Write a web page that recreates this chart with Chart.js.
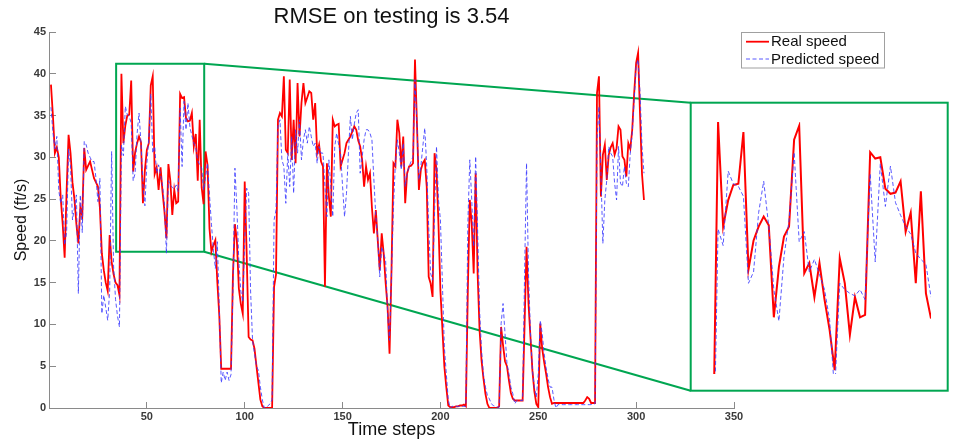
<!DOCTYPE html>
<html><head><meta charset="utf-8">
<script src="https://cdn.jsdelivr.net/npm/chart.js@4.4.0/dist/chart.umd.min.js"></script>
<style>
html,body{margin:0;padding:0;background:#fff;}
#wrap{position:relative;width:954px;height:444px;overflow:hidden;}
#main{position:absolute;left:0;top:0;}
#inset{position:absolute;left:713px;top:122px;}
</style></head><body>
<div id="wrap"><canvas id="main" width="954" height="444"></canvas><canvas id="inset" width="218" height="252"></canvas></div>
<script>
// ---- data (time steps 1..304) ----
const realSpeed = [
 38.7, 35, 30.5, 31.2, 30, 25.1, 22, 18, 26, 32.7,
 30.5, 27, 25, 22, 19.7, 24, 23, 31.1, 28.5, 29,
 29.5, 28.5, 27.5, 27, 26.5, 24, 18.5, 16.5, 15, 14,
 20.7, 17.5, 16, 15, 14.7, 13.5, 40, 31.7, 33.8, 35,
 35.1, 39.2, 28.3, 30.6, 31.7, 32.5, 31.8, 24.5, 28.5, 30.9,
 31.7, 38.6, 39.7, 28, 28.8, 26.1, 28.8, 25.9, 23.5, 20.3,
 29.2, 27.2, 23.1, 26.1, 24.5, 24.7, 37.6, 37.1, 37.2, 34.7,
 34.3, 34.4, 35.3, 31.3, 32.8, 27.2, 34.5, 26.4, 24.4, 30.7,
 29.1, 21.5, 18.7, 19.5, 20.1, 15.1, 11.1, 4.7, 4.7, 4.7,
 4.7, 4.7, 4.7, 16, 22, 20, 14.3, 12.5, 11.3, 27.1,
 18.5, 8.5, 8.2, 8.1, 7.1, 5, 3, 1, 0.2, 0,
 0, 0, 0, 0, 14.5, 16, 34.5, 35.3, 34.9, 39.7,
 30.9, 30.5, 39.3, 29.7, 34.5, 29.3, 38.9, 32.5, 36.5, 38.9,
 36.5, 37.2, 37.9, 37.7, 34.5, 36.5, 30.5, 31.5, 29.5, 28.9,
 14.5, 29.3, 25.3, 22.9, 34.5, 33.7, 33.9, 34, 28.9, 29.7,
 30.5, 31.7, 32.1, 32.5, 33.1, 33.7, 33.3, 32, 31.3, 29.7,
 26.5, 28.9, 27.3, 28.1, 24, 20.9, 23.7, 20, 16.5, 20.9,
 18.5, 15, 12.1, 6.5, 16.5, 29.3, 28.9, 34.5, 32.9, 28.9,
 32.5, 24.5, 28.1, 28.9, 29, 29.3, 41.7, 34.1, 26.1, 28.5,
 29.3, 29.7, 26.5, 15.7, 14.9, 13.3, 30.5, 28.5, 22, 14,
 9.5, 5, 2.5, 0.3, 0.1, 0.1, 0.1, 0.2, 0.2, 0.3,
 0.3, 0.4, 0.2, 14, 24.9, 22, 16.1, 28.1, 16.1, 9.3,
 5.7, 3.5, 1.7, 0.5, 0, 0, 0, 0, 0, 0.2,
 9.7, 7.5, 5.6, 5, 3.3, 1.8, 1.1, 0.9, 0.9, 0.9,
 0.9, 0.9, 10, 19.3, 12.5, 8.5, 4.5, 2, 0.5, 0.1,
 10.1, 7.1, 5.5, 4.1, 2.5, 1.3, 0.5, 0.6, 0.6, 0.6,
 0.6, 0.6, 0.6, 0.6, 0.6, 0.6, 0.6, 0.6, 0.6, 0.6,
 0.6, 0.6, 0.6, 0.9, 1.3, 1.1, 0.6, 0.6, 0.6, 37.7,
 39.7, 25.3, 30.3, 31.5, 27.3, 30.3, 31.2, 31.7, 30.3, 31.1,
 33.7, 33.3, 30.1, 29.7, 27.7, 31.7, 31, 33.3, 37.7, 41.3,
 42.5, 35, 28, 24.9
];
const predictedSpeed = [
 36, 33, 31, 32.5, 26, 24.5, 25.5, 19.5, 21, 31,
 29, 22.5, 24, 25.5, 13.7, 25.5, 21, 31.9, 31.5, 30.5,
 30, 29.5, 29.5, 27.5, 24.7, 27.5, 11.3, 13.5, 12, 10.5,
 14, 30.7, 17, 13, 11, 9.7, 31.5, 30.2, 36.1, 35.1,
 34.9, 34.1, 27.2, 28.1, 32.8, 35.3, 31.7, 26.7, 24.2, 29.3,
 32.2, 37.6, 30.5, 31.3, 28.1, 29.1, 27.9, 26.7, 24.3, 18.5,
 27.2, 26.7, 26.4, 26.2, 26.7, 25.9, 35.9, 28.9, 36.7, 33.3,
 36.5, 33.6, 32.6, 31.7, 31.1, 29.6, 29.1, 28.7, 26.1, 27.7,
 29.3, 25.5, 22, 18.9, 16.7, 19.9, 12, 3, 4.3, 3.3,
 4.3, 3.3, 4, 14.3, 28.7, 23.9, 17.5, 14, 12.7, 20,
 26.3, 25.7, 14, 8.1, 6.5, 5, 4.5, 2.5, 1, 0,
 0, 0.3, 0.5, 1, 22.5, 23.7, 33.7, 34.5, 29.7, 28.9,
 24.5, 30.5, 26.5, 32.5, 25.7, 33.3, 30.5, 34.5, 29.7, 32.1,
 33.3, 31.7, 33.7, 32.5, 31.3, 31.7, 29.3, 31.3, 30.5, 30.5,
 26.5, 22.9, 29.7, 26.5, 22.9, 31.3, 32.9, 31.5, 30.5, 26.5,
 22.9, 25.7, 30.5, 34.9, 32.1, 34, 35.3, 35.7, 28.1, 30,
 32.1, 33.3, 33.3, 32.9, 32.1, 27.3, 22.9, 20.1, 15.7, 19.3,
 18.5, 17.7, 11.3, 8.1, 16.1, 24.1, 29.3, 32.1, 30.5, 28.5,
 31.7, 26.5, 28.1, 28.9, 29.5, 30.1, 39.3, 34.1, 27.3, 28.9,
 31.3, 33.5, 28.9, 21.7, 16.1, 15.3, 23.3, 31.3, 24.9, 22.5,
 15, 7.3, 4.1, 1, 0, 0.2, 0.2, 0.2, 0.2, 0.2,
 0.2, 0.2, 0.2, 22, 29.7, 24.9, 19.3, 30.1, 21.3, 11.7,
 6.9, 4, 2.5, 1.5, 1.1, 0.5, 0.3, 0.2, 0.1, 0.1,
 10.1, 12.5, 8.9, 5.3, 4.1, 2.5, 1.7, 0.5, 0.9, 0.9,
 0.9, 0.9, 16.1, 29.3, 16.1, 9, 4.5, 2.5, 1.3, 4.1,
 10.5, 8.9, 6.5, 4.8, 3.5, 2.5, 2.5, 1, 0, 0.4,
 0.4, 0.4, 0.4, 0.4, 0.4, 0.4, 0.4, 0.4, 0.4, 0.4,
 0.4, 0.4, 0.4, 0.4, 0.4, 0.4, 0.4, 0.5, 0.5, 32.1,
 36.1, 28.1, 19.7, 24.9, 27.3, 31.3, 30.5, 30.1, 26.9, 24.9,
 31.3, 26.9, 26.5, 28.9, 26.9, 26.5, 30.5, 32.9, 36.9, 40.9,
 41.7, 37.7, 31.3, 28.1
];
const timeSteps = realSpeed.map((_, i) => i + 1);
const seriesLabels = ['Real speed', 'Predicted speed'];
const xTickValues = [50, 100, 150, 200, 250, 300, 350];
const yTickValues = [0, 5, 10, 15, 20, 25, 30, 35, 40, 45];
const titleText = 'RMSE on testing is 3.54';
const xTitle = 'Time steps';
const yTitle = 'Speed (ft/s)';
// zoomed window (data coordinates) and inset view limits
const zoomXRange = [34.3, 79.3];
const zoomYRange = [18.7, 41.2];
const insetXRange = [36, 79];
const insetYRange = [20, 40];

// ---- styles / layout ----
const FONT = "'Liberation Sans', Arial, Helvetica, sans-serif";
const RED = '#ff0000';
const BLUE = 'rgba(60,60,255,0.85)';
const GREEN = '#00a651';
const AXIS = '#8a8a8a';
const insetBox = {left: 690.7, top: 102.7, right: 947.7, bottom: 390.7};
const legendBox = {left: 741.5, top: 32.5, w: 143, h: 35.5};

function pts(arr) { return arr.map((v, i) => ({x: timeSteps[i], y: v})); }

const overlay = {
  id: 'overlay',
  beforeDatasetsDraw(chart) {
    const {ctx, scales: {x, y}} = chart;
    const x0 = x.getPixelForValue(zoomXRange[0]), x1 = x.getPixelForValue(zoomXRange[1]);
    const y0 = y.getPixelForValue(zoomYRange[1]), y1 = y.getPixelForValue(zoomYRange[0]);
    ctx.save();
    ctx.strokeStyle = GREEN; ctx.lineWidth = 2;
    ctx.strokeRect(x0, y0, x1 - x0, y1 - y0);
    ctx.beginPath();
    ctx.moveTo(x1, y0); ctx.lineTo(insetBox.left, insetBox.top);
    ctx.moveTo(x1, y1); ctx.lineTo(insetBox.left, insetBox.bottom);
    ctx.stroke();
    ctx.strokeRect(insetBox.left, insetBox.top, insetBox.right - insetBox.left, insetBox.bottom - insetBox.top);
    ctx.restore();
  },
  afterDraw(chart) {
    const ctx = chart.ctx;
    const ds = chart.data.datasets;
    ctx.save();
    ctx.fillStyle = '#fff';
    ctx.fillRect(legendBox.left, legendBox.top, legendBox.w, legendBox.h);
    ctx.strokeStyle = '#a0a0a0'; ctx.lineWidth = 1;
    ctx.strokeRect(legendBox.left, legendBox.top, legendBox.w, legendBox.h);
    const rows = [41.7, 59];
    ds.forEach((d, i) => {
      ctx.beginPath();
      ctx.strokeStyle = d.borderColor; ctx.lineWidth = d.borderWidth;
      ctx.setLineDash(d.borderDash || []);
      ctx.moveTo(746, rows[i]); ctx.lineTo(769, rows[i]); ctx.stroke();
      ctx.setLineDash([]);
      ctx.fillStyle = '#111'; ctx.font = '15px ' + FONT;
      ctx.textBaseline = 'middle'; ctx.textAlign = 'left';
      ctx.fillText(d.label, 771, rows[i] + 0.5);
    });
    ctx.restore();
  }
};

const mainChart = new Chart(document.getElementById('main'), {
  type: 'line',
  data: { datasets: [
    {label: seriesLabels[0], data: pts(realSpeed), borderColor: RED, borderWidth: 1.8, pointRadius: 0, tension: 0, order: 1},
    {label: seriesLabels[1], data: pts(predictedSpeed), borderColor: BLUE, borderWidth: 1, borderDash: [4, 2.5], pointRadius: 0, tension: 0, order: 0}
  ]},
  options: {
    responsive: false, animation: false, devicePixelRatio: 1,
    layout: {padding: {left: 0, right: 220, top: 0, bottom: 0}},
    plugins: {
      legend: {display: false}, tooltip: {enabled: false},
      title: {display: true, text: titleText, fullSize: false, color: '#111',
              font: {family: FONT, size: 22, weight: 'normal'}, padding: {top: 4, bottom: 1.6}}
    },
    scales: {
      x: {
        type: 'linear', min: 0, max: 350, position: 'bottom',
        afterBuildTicks: s => { s.ticks = xTickValues.map(v => ({value: v})); },
        afterFit: s => { s.height = 36; },
        ticks: {font: {family: FONT, size: 11, weight: 'bold'}, color: '#3a3a3a', padding: 8, maxRotation: 0, autoSkip: false},
        grid: {drawOnChartArea: false, drawTicks: true, tickLength: -6, color: AXIS},
        border: {color: AXIS, width: 1},
        title: {display: true, text: xTitle, color: '#111', font: {family: FONT, size: 18}, padding: {top: 0, bottom: 3.5}}
      },
      y: {
        type: 'linear', min: 0, max: 45,
        afterBuildTicks: s => { s.ticks = yTickValues.map(v => ({value: v})); },
        afterFit: s => { s.width = 49; },
        ticks: {font: {family: FONT, size: 11, weight: 'bold'}, color: '#3a3a3a', padding: 10, autoSkip: false},
        grid: {drawOnChartArea: false, drawTicks: true, tickLength: -7, color: AXIS},
        border: {color: AXIS, width: 1},
        title: {display: true, text: yTitle, color: '#111', font: {family: FONT, size: 16}, padding: {top: 12, bottom: 0}}
      }
    }
  },
  plugins: [overlay]
});

const insetChart = new Chart(document.getElementById('inset'), {
  type: 'line',
  data: { datasets: [
    {label: seriesLabels[0], data: pts(realSpeed), borderColor: RED, borderWidth: 2, pointRadius: 0, tension: 0, order: 1},
    {label: seriesLabels[1], data: pts(predictedSpeed), borderColor: BLUE, borderWidth: 1, borderDash: [4, 2.5], pointRadius: 0, tension: 0, order: 0}
  ]},
  options: {
    responsive: false, animation: false, devicePixelRatio: 1,
    layout: {padding: 0},
    plugins: {legend: {display: false}, tooltip: {enabled: false}, title: {display: false}},
    scales: {
      x: {type: 'linear', min: insetXRange[0], max: insetXRange[1], display: false},
      y: {type: 'linear', min: insetYRange[0], max: insetYRange[1], display: false}
    }
  }
});
</script>
</body></html>
